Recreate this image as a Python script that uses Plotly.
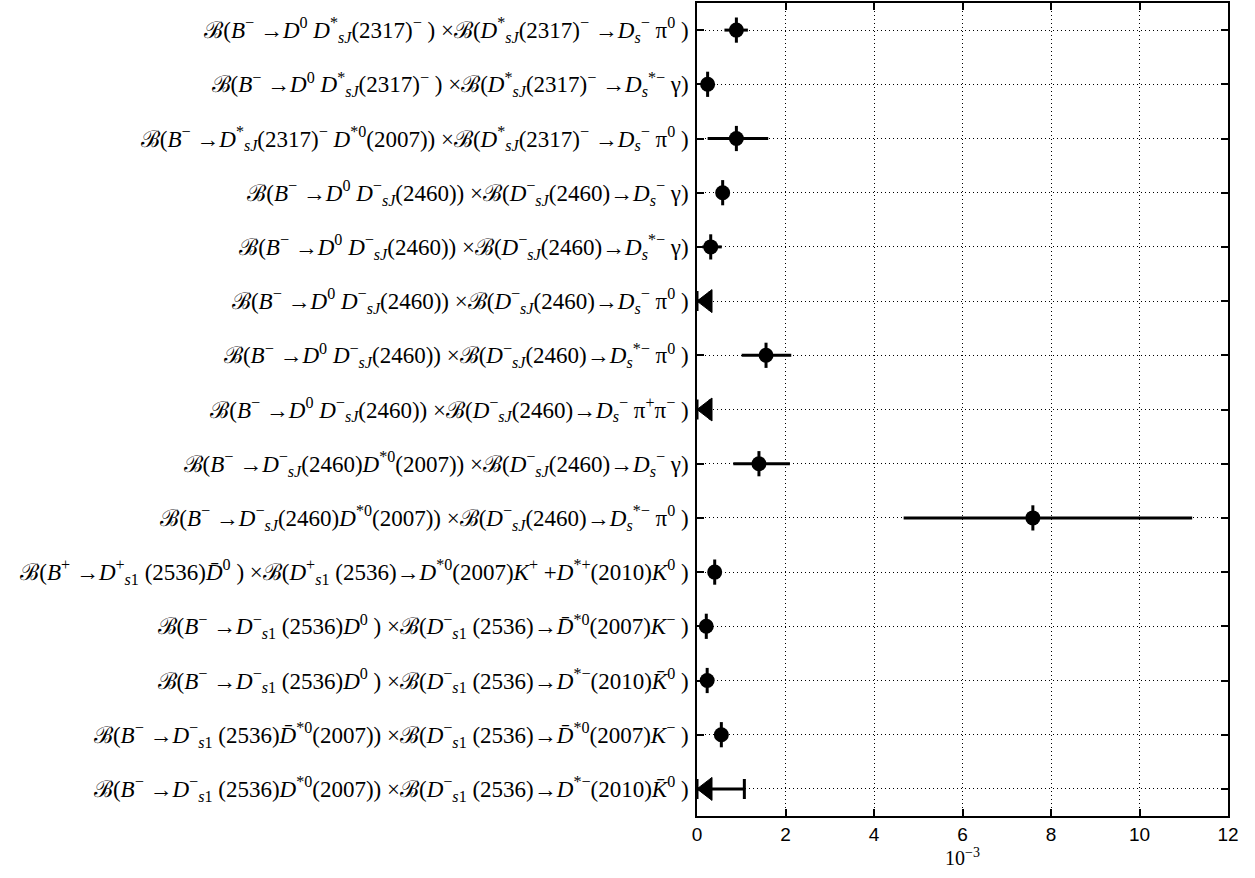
import plotly.graph_objects as go

SB = "ℬ"
def I(s):
    return f"<i>{s}</i>"

Bm = I("B") + "<sup>−</sup>"
Bp = I("B") + "<sup>+</sup>"
D0 = I("D") + "<sup>0</sup>"
DsJs = I("D") + "<sup>*</sup><sub>" + I("sJ") + "</sub>(2317)<sup>−</sup>"
DsJ = I("D") + "<sup>−</sup><sub>" + I("sJ") + "</sub>(2460)"
Ds1m = I("D") + "<sup>−</sup><sub>" + I("s") + "1</sub> (2536)"
Ds1p = I("D") + "<sup>+</sup><sub>" + I("s") + "1</sub> (2536)"
Dsm = I("D") + "<sub>" + I("s") + "</sub><sup>−</sup>"
Dssm = I("D") + "<sub>" + I("s") + "</sub><sup>*−</sup>"
Dst0 = I("D") + "<sup>*0</sup>(2007)"
Dbst0 = I("D̄") + "<sup>*0</sup>(2007)"
Dstm = I("D") + "<sup>*−</sup>(2010)"
Dstp = I("D") + "<sup>*+</sup>(2010)"
pi0 = "π<sup>0</sup>"
gam = "γ"

labels = [
    f"{SB}({Bm} →{D0} {DsJs} ) ×{SB}({DsJs} →{Dsm} {pi0} )",
    f"{SB}({Bm} →{D0} {DsJs} ) ×{SB}({DsJs} →{Dssm} {gam})",
    f"{SB}({Bm} →{DsJs} {Dst0}) ×{SB}({DsJs} →{Dsm} {pi0} )",
    f"{SB}({Bm} →{D0} {DsJ}) ×{SB}({DsJ}→{Dsm} {gam})",
    f"{SB}({Bm} →{D0} {DsJ}) ×{SB}({DsJ}→{Dssm} {gam})",
    f"{SB}({Bm} →{D0} {DsJ}) ×{SB}({DsJ}→{Dsm} {pi0} )",
    f"{SB}({Bm} →{D0} {DsJ}) ×{SB}({DsJ}→{Dssm} {pi0} )",
    f"{SB}({Bm} →{D0} {DsJ}) ×{SB}({DsJ}→{Dsm} π<sup>+</sup>π<sup>−</sup> )",
    f"{SB}({Bm} →{DsJ}{Dst0}) ×{SB}({DsJ}→{Dsm} {gam})",
    f"{SB}({Bm} →{DsJ}{Dst0}) ×{SB}({DsJ}→{Dssm} {pi0} )",
    f"{SB}({Bp} →{Ds1p}{I('D̄')}<sup>0</sup> ) ×{SB}({Ds1p}→{Dst0}{I('K')}<sup>+</sup> +{Dstp}{I('K')}<sup>0</sup> )",
    f"{SB}({Bm} →{Ds1m}{D0} ) ×{SB}({Ds1m}→{Dbst0}{I('K')}<sup>−</sup> )",
    f"{SB}({Bm} →{Ds1m}{D0} ) ×{SB}({Ds1m}→{Dstm}{I('K̄')}<sup>0</sup> )",
    f"{SB}({Bm} →{Ds1m}{Dbst0}) ×{SB}({Ds1m}→{Dbst0}{I('K')}<sup>−</sup> )",
    f"{SB}({Bm} →{Ds1m}{Dst0}) ×{SB}({Ds1m}→{Dstm}{I('K̄')}<sup>0</sup> )",
]

# measured values (units of 1e-3); None where only an upper limit exists
values = [0.89, 0.24, 0.89, 0.58, 0.31, None, 1.56, None, 1.40, 7.59, 0.40, 0.21, 0.23, 0.55, None]
err_lo = [0.27, 0.05, 0.65, 0.08, 0.19, 0, 0.55, 0, 0.58, 2.92, 0.08, 0.05, 0.05, 0.08, 0]
err_hi = [0.26, 0.05, 0.72, 0.08, 0.25, 0, 0.57, 0, 0.70, 3.60, 0.08, 0.05, 0.05, 0.08, 0]
upper_limits = [None, None, None, None, None, 0.30, None, 0.30, None, None, None, None, None, None, 1.07]

rows = list(range(len(labels)))

fig = go.Figure()

fig.add_trace(go.Scatter(
    x=values, y=rows, mode="markers",
    marker=dict(symbol="circle", size=15, color="black"),
    error_x=dict(type="data", symmetric=False, array=err_hi, arrayminus=err_lo,
                 color="black", thickness=3, width=0),
    showlegend=False, cliponaxis=False,
))
fig.add_trace(go.Scatter(
    x=values, y=rows, mode="markers",
    marker=dict(symbol="line-ns", size=18, line=dict(width=3, color="black")),
    showlegend=False, cliponaxis=False,
))

lim_rows = [r for r, u in zip(rows, upper_limits) if u is not None]
lim_vals = [u for u in upper_limits if u is not None]
fig.add_trace(go.Scatter(
    x=lim_vals, y=lim_rows, mode="markers",
    marker=dict(size=1, color="rgba(0,0,0,0)"),
    error_x=dict(type="data", symmetric=False, array=[0] * len(lim_vals),
                 arrayminus=lim_vals, color="black", thickness=3, width=10),
    showlegend=False, cliponaxis=False,
))
# left-pointing arrowheads at zero for upper limits
for r in lim_rows:
    fig.add_shape(
        type="path", xref="x", yref="y",
        xsizemode="pixel", ysizemode="pixel", xanchor=0, yanchor=r,
        path="M0,0 L15,11.5 L15,-11.5 Z",
        fillcolor="black", line=dict(color="black", width=1), layer="above",
    )

grid_common = dict(
    showgrid=True, gridcolor="black", griddash="1px,3px", gridwidth=1,
    zeroline=False, showline=True, linecolor="black", linewidth=1.5,
    mirror="ticks", ticks="inside", ticklen=7, tickcolor="black", tickwidth=1.5,
    automargin=False,
)

fig.update_layout(
    width=1255, height=878,
    margin=dict(l=697, r=27, t=3, b=62),
    paper_bgcolor="white", plot_bgcolor="white",
    font=dict(family="Liberation Serif, DejaVu Serif, serif", color="black"),
    xaxis=dict(
        range=[0, 12], tickvals=[0, 2, 4, 6, 8, 10, 12],
        tickfont=dict(family="Liberation Sans, Arial, sans-serif", size=19),
        title=dict(text="10<sup>−3</sup>",
                   font=dict(family="Liberation Serif, serif", size=20),
                   standoff=2),
        **grid_common,
    ),
    yaxis=dict(
        range=[14.5, -0.5], tickvals=rows, ticktext=labels,
        tickfont=dict(size=23),
        ticklabelstandoff=2,
        **grid_common,
    ),
)

fig.write_html(
    "out.html",
    config={"displayModeBar": False},
    post_script="document.body.style.margin='0';document.body.style.overflow='hidden';",
)
